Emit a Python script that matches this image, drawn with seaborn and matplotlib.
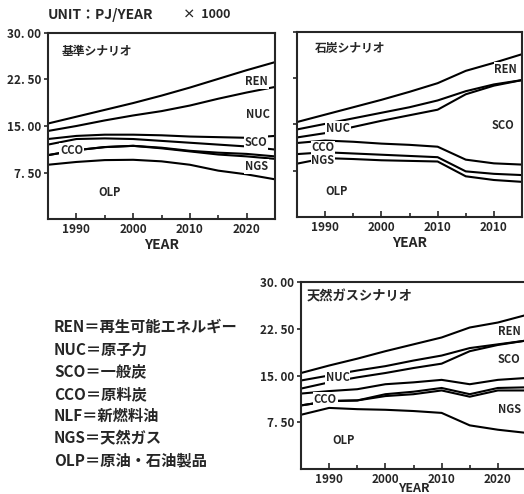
import matplotlib
matplotlib.use("Agg")
import matplotlib.pyplot as plt
import pandas as pd
import seaborn as sns

# years on the x axis
years = [1985, 1990, 1995, 2000, 2005, 2010, 2015, 2020, 2025]

# 基準シナリオ : upper boundary of each stacked band (x1000 PJ/year)
base_ren = [15.4, 16.5, 17.6, 18.7, 19.9, 21.2, 22.6, 24.0, 25.3]
base_nuc = [14.2, 15.0, 15.9, 16.7, 17.4, 18.3, 19.4, 20.4, 21.3]
base_sco = [12.9, 13.4, 13.6, 13.6, 13.5, 13.3, 13.2, 13.1, 13.4]
base_cco = [12.0, 12.9, 13.0, 12.9, 12.6, 12.3, 12.0, 11.7, 11.2]
base_nlf = [10.3, 11.1, 11.6, 11.8, 11.5, 11.0, 10.7, 10.5, 10.1]
base_ngs = [10.3, 11.1, 11.6, 11.8, 11.4, 10.9, 10.4, 10.1, 9.7]
base_olp = [8.75, 9.2, 9.5, 9.55, 9.3, 8.75, 7.8, 7.2, 6.4]

# 石炭シナリオ
coal_ren = [15.4, 16.6, 17.8, 19.0, 20.3, 21.7, 23.7, 25.0, 26.4]
coal_nuc = [14.2, 15.1, 16.0, 16.9, 17.8, 18.9, 20.4, 21.5, 22.2]
coal_sco = [12.9, 13.6, 14.6, 15.6, 16.5, 17.4, 19.9, 21.3, 22.2]
coal_cco = [12.0, 12.4, 12.2, 11.9, 11.7, 11.4, 9.3, 8.7, 8.5]
coal_ngs = [10.2, 10.5, 10.3, 10.1, 9.9, 9.7, 7.4, 7.0, 6.8]
coal_olp = [8.65, 9.55, 9.4, 9.2, 9.1, 9.0, 6.6, 6.0, 5.7]

# 天然ガスシナリオ
gas_ren = [15.4, 16.6, 17.7, 18.9, 20.0, 21.1, 22.7, 23.5, 24.7]
gas_nuc = [14.2, 15.0, 15.8, 16.5, 17.4, 18.2, 19.4, 20.0, 20.6]
gas_sco = [12.9, 13.9, 14.7, 15.4, 16.2, 16.9, 18.9, 19.9, 20.6]
gas_cco = [12.1, 12.5, 12.8, 13.6, 13.9, 14.3, 13.6, 14.3, 14.6]
gas_nlf = [10.2, 10.9, 11.0, 12.0, 12.4, 13.0, 12.0, 13.0, 13.1]
gas_ngs = [10.2, 10.9, 11.0, 11.7, 12.0, 12.6, 11.6, 12.6, 12.6]
gas_olp = [8.7, 9.8, 9.6, 9.5, 9.3, 9.0, 7.0, 6.3, 5.8]

ytick_vals = [7.5, 15, 22.5, 30]
ytick_text = ["7. 50", "15. 00", "22. 50", "30. 00"]
xtick_vals = [1990, 2000, 2010, 2020]
xtick_text_1 = ["1990", "2000", "2010", "2020"]
xtick_text_2 = ["1990", "2000", "2010", "2010"]

legend_lines = ["REN＝再生可能エネルギー", "NUC＝原子力", "SCO＝一般炭", "CCO＝原料炭",
                "NLF＝新燃料油", "NGS＝天然ガス", "OLP＝原油・石油製品"]

sns.set_style("ticks")
plt.rcParams['font.family'] = ['Noto Sans CJK JP', 'DejaVu Sans']


def long_table(series):
    rows = []
    for name, vals in series.items():
        for yr, v in zip(years, vals):
            rows.append({"year": yr, "level": v, "series": name})
    return pd.DataFrame(rows)


def draw_panel(ax, series, title, title_pos, title_size, labels, xticklabels,
               show_ylabels, xlabel_pad=1, xlabel_size=10):
    df = long_table(series)
    sns.lineplot(data=df, x="year", y="level", units="series", estimator=None,
                 color="black", linewidth=1.5, ax=ax, legend=False)
    ax.set_xlim(1985, 2025)
    ax.set_ylim(0, 30)
    ax.set_xticks(xtick_vals)
    ax.set_xticklabels(xticklabels, fontsize=8.5, fontweight="bold")
    ax.set_xticks([1995, 2005, 2015], minor=True)
    ax.tick_params(axis="x", which="both", direction="in", length=4, width=1.2, pad=3)
    ax.tick_params(axis="x", which="minor", length=3)
    ax.set_yticks(ytick_vals)
    if show_ylabels:
        ax.set_yticklabels(ytick_text, fontsize=8.5, fontweight="bold")
    else:
        ax.set_yticklabels([])
    ax.tick_params(axis="y", direction="out", length=3, width=1.2, pad=2)
    ax.set_xlabel("YEAR", fontsize=xlabel_size, fontweight="bold", labelpad=xlabel_pad)
    ax.set_ylabel("")
    for s in ax.spines.values():
        s.set_linewidth(1.5)
    ax.text(title_pos[0], title_pos[1], title, transform=ax.transAxes,
            fontsize=title_size, fontweight="bold", va="center", ha="left")
    for txt, x, y in labels:
        ax.text(x, y, txt, fontsize=8, fontweight="bold", ha="center", va="center",
                zorder=5, bbox=dict(facecolor="white", edgecolor="none", pad=0.6))


fig = plt.figure(figsize=(5.24, 4.94), dpi=100)
ax1 = fig.add_axes([48 / 524, 1 - 219 / 494, 227 / 524, 186 / 494])
ax2 = fig.add_axes([297 / 524, 1 - 217 / 494, 225 / 524, 185 / 494])
ax3 = fig.add_axes([301 / 524, 1 - 469 / 494, 225 / 524, 187 / 494])

draw_panel(ax1,
           {"REN": base_ren, "NUC": base_nuc, "SCO": base_sco, "CCO": base_cco,
            "NLF": base_nlf, "NGS": base_ngs, "OLP": base_olp},
           "基準シナリオ", (0.062, 0.898), 8.5,
           [("REN", 2021.8, 22.1), ("NUC", 2022, 16.8), ("SCO", 2021.7, 12.3),
            ("NGS", 2021.8, 8.5), ("CCO", 1989.2, 11.1), ("OLP", 1995.9, 4.2)],
           xtick_text_1, True)

draw_panel(ax2,
           {"REN": coal_ren, "NUC": coal_nuc, "SCO": coal_sco, "CCO": coal_cco,
            "NGS": coal_ngs, "OLP": coal_olp},
           "石炭シナリオ", (0.08, 0.913), 8.5,
           [("REN", 2022.1, 23.9), ("SCO", 2021.6, 14.9), ("NUC", 1992.3, 14.4),
            ("CCO", 1989.6, 11.2), ("NGS", 1989.6, 9.2), ("OLP", 1992.1, 4.1)],
           xtick_text_2, False)

draw_panel(ax3,
           {"REN": gas_ren, "NUC": gas_nuc, "SCO": gas_sco, "CCO": gas_cco,
            "NLF": gas_nlf, "NGS": gas_ngs, "OLP": gas_olp},
           "天然ガスシナリオ", (0.027, 0.925), 9.5,
           [("REN", 2022, 22.1), ("SCO", 2022, 17.6), ("NGS", 2022, 9.6),
            ("NUC", 1991.5, 14.7), ("CCO", 1989.3, 11.2), ("OLP", 1992.6, 4.5)],
           xtick_text_1, True, xlabel_pad=-3, xlabel_size=9)
ax3.spines["right"].set_visible(False)

fig.text(48 / 524, 1 - 15 / 494, "UNIT：PJ/YEAR", fontsize=10, fontweight="bold",
         va="center", ha="left")
fig.text(183 / 524, 1 - 15 / 494, "×  1000", fontsize=9, fontweight="bold",
         va="center", ha="left")

for i, line in enumerate(legend_lines):
    fig.text(54 / 524, 1 - (327 + i * 22.3) / 494, line, fontsize=11,
             fontweight="bold", va="center", ha="left")

fig.savefig("out.png", dpi=100)
